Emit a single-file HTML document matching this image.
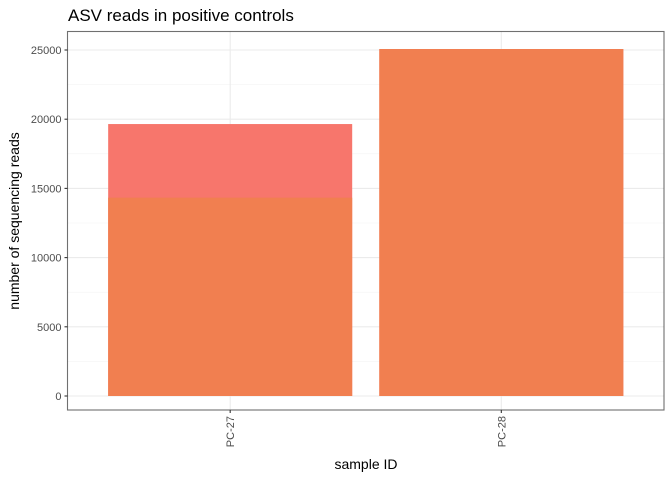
<!DOCTYPE html>
<html><head><meta charset="utf-8"><style>
body{margin:0;background:#fff;font-family:"Liberation Sans",sans-serif;}
</style></head><body>
<svg id="chart" width="672" height="480" xmlns="http://www.w3.org/2000/svg" font-family="Liberation Sans, sans-serif">
<rect width="672" height="480" fill="#fff"/>
<text x="68" y="21" font-size="17" fill="#000">ASV reads in positive controls</text>
<g id="grid"></g>
<g id="bars"></g>
<rect x="67.5" y="31.5" width="596.5" height="378.5" fill="none" stroke="#333" stroke-width="1.1" opacity="0.7"/>
<g id="axes"></g>
<text x="366" y="469" font-size="14" text-anchor="middle">sample ID</text>
<text transform="translate(19,221) rotate(-90)" font-size="14" text-anchor="middle">number of sequencing reads</text>
</svg>
<script>
const categories=["PC-27","PC-28"];
const totalReads=[19650,25070];
const lowerReads=[14330,25070];
const yTicks=[0,5000,10000,15000,20000,25000];
const ns="http://www.w3.org/2000/svg";
const L=67.5,R=664,T=31.5,B=410;
const y0=396,pxPer=69.2/5000;
function y(v){return y0-v*pxPer;}
const unit=(R-L)/2.2;
function x(i){return L+(0.6+i)*unit;}
function mk(t,a,p){const e=document.createElementNS(ns,t);for(const k in a)e.setAttribute(k,a[k]);p.appendChild(e);return e;}
const grid=document.getElementById('grid'),bars=document.getElementById('bars'),axes=document.getElementById('axes');
for(let k=0;k<yTicks.length;k++){
 const v=yTicks[k];
 const g=mk('line',{x1:L,x2:R,y1:y(v),y2:y(v),stroke:'#ebebeb','stroke-width':1.1},grid);
 
 
 if(k<yTicks.length-1){const m=mk('line',{x1:L,x2:R,y1:y(v+2500),y2:y(v+2500),stroke:'#f3f3f3','stroke-width':0.6},grid);
 
 }
 const t=mk('line',{x1:L-3,x2:L,y1:y(v),y2:y(v),stroke:'#333','stroke-width':1.1},axes);
 
 
 const lb=mk('text',{x:L-6,y:y(v)+4,'font-size':11,'text-anchor':'end',fill:'#4d4d4d'},axes);
 lb.textContent=v;
 
 
}
categories.forEach((c,i)=>{
 const cx=x(i),hw=0.45*unit;
 const g=mk('line',{x1:cx,x2:cx,y1:T,y2:B,stroke:'#ebebeb','stroke-width':1.1},grid);
 
 
 const top=mk('rect',{x:cx-hw,y:y(totalReads[i]),width:2*hw,height:y(0)-y(totalReads[i]),fill:'#F7766C'},bars);
 
 
 const low=mk('rect',{x:cx-hw,y:y(lowerReads[i]),width:2*hw,height:y(0)-y(lowerReads[i]),fill:'#F17F50'},bars);
 
 
 const t=mk('line',{x1:cx,x2:cx,y1:B,y2:B+3,stroke:'#333','stroke-width':1.1},axes);
 
 
 const lb=mk('text',{transform:`translate(${cx+4},${B+6}) rotate(-90)`,'font-size':11,'text-anchor':'end',fill:'#4d4d4d'},axes);
 lb.textContent=c;
 
 
});
</script>
</body></html>
